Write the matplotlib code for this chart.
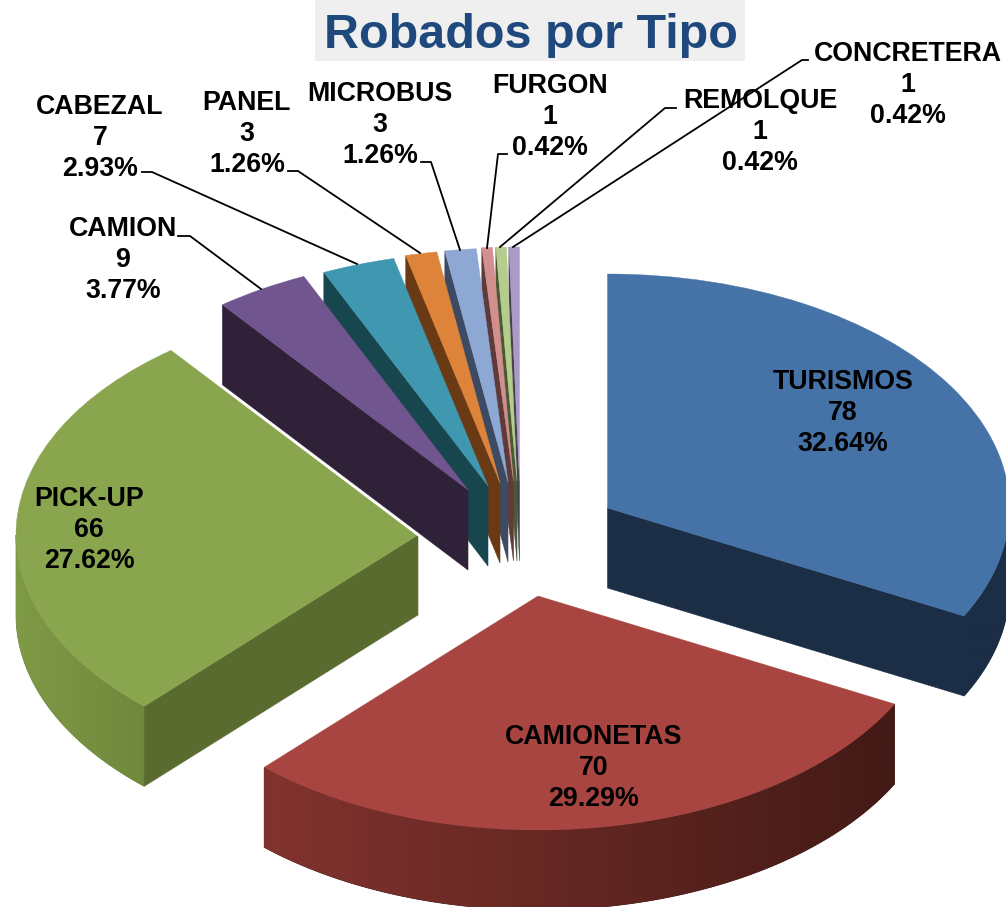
import matplotlib
matplotlib.use("Agg")
import matplotlib.pyplot as plt
import numpy as np
from matplotlib.colors import to_rgb
from matplotlib.patches import Polygon, Rectangle

plt.rcParams['font.family'] = ['Liberation Sans', 'DejaVu Sans']

names = ["TURISMOS", "CAMIONETAS", "PICK-UP", "CAMION", "CABEZAL", "PANEL",
         "MICROBUS", "FURGON", "REMOLQUE", "CONCRETERA"]
values = [78, 70, 66, 9, 7, 3, 3, 1, 1, 1]
top_colors = ["#4572a7", "#a94540", "#89a54e", "#71558f", "#4097b0",
              "#dd843a", "#8ea8d4", "#d28f8d", "#b4cc8c", "#a89bc5"]
cut_colors = ["#1b2e46", "#431a16", "#5a6b30", "#2e2138", "#17464f",
              "#6a3a14", "#3d4a64", "#5f3a3a", "#4a5a35", "#4a4055"]

# where each slice's tip ended up, in pixels (every slice is pulled out its own way)
apex_x = [607.5, 538, 418, 468, 488, 500, 508, 513.5, 517, 519.5]
apex_y = [508, 596, 535, 490, 486, 483, 482, 481, 481, 481]
label_x = [843, 594, 89, 123, 100, 247, 380, 550, 760, 908]
label_y = [413, 768, 530, 260, 138, 134, 125, 117, 132, 85]
leaders = [None, None, None,
           [(178, 236), (190, 236), (261, 289)],
           [(142, 172), (152, 172), (357, 264)],
           [(288, 171), (298, 171), (420, 253)],
           [(421, 162), (431, 162), (460, 250)],
           [(507, 154), (498, 154), (487, 248)],
           [(676, 108), (665, 108), (500, 247)],
           [(808, 60), (802, 60), (513, 247)]]

W, H = 1006, 907
RX, RY, DEPTH = 402.0, 234.0, 80.0

fig = plt.figure(figsize=(W / 100, H / 100), dpi=100)
ax = fig.add_axes([0, 0, 1, 1])   # unit circle axes, squashed
ov = fig.add_axes([0, 0, 1, 1])   # pixel axes for text
ov.set_xlim(0, W)
ov.set_ylim(H, 0)
ov.axis('off')
ov.patch.set_alpha(0)

total = sum(values)
ends = np.cumsum(values) / total * 360
starts = ends - np.array(values) / total * 360


def to_unit(px, py):
    return px / RX, -py / RY


def arc_wall(cx, cy, t0, t1, col0, col1):
    # curved outer wall, one polygon filled with a left to right gradient
    ts = np.radians(np.linspace(t0, t1, 120))
    xs = cx + np.sin(ts)
    ys = cy + np.cos(ts)
    d = DEPTH / RY
    pts = list(zip(xs, ys)) + list(zip(xs[::-1], ys[::-1] - d))
    poly = Polygon(pts, closed=True, fc=col1, ec=col1, lw=0.5)
    ax.add_patch(poly)
    grad = np.linspace(0, 1, 256)[None, :, None]
    img = np.array(to_rgb(col0)) + (np.array(to_rgb(col1)) - np.array(to_rgb(col0))) * grad
    im = ax.imshow(img, extent=(xs.min(), xs.max(), ys.min() - d, ys.max()),
                   aspect='auto', zorder=1, interpolation='bilinear')
    im.set_clip_path(poly)


def cut_wall(cx, cy, t, col):
    # flat wall under the straight edge of a slice
    a = np.radians(t)
    ex, ey = cx + np.sin(a), cy + np.cos(a)
    d = DEPTH / RY
    ax.add_patch(Polygon([(cx, cy), (ex, ey), (ex, ey - d), (cx, cy - d)],
                         closed=True, fc=col, ec=col, lw=0.4))


def top_face(cx, cy, i):
    ax.pie([values[i] / total], normalize=False, startangle=90 - starts[i],
           counterclock=False, colors=[top_colors[i]], center=(cx, cy), radius=1,
           wedgeprops={'lw': 0.3, 'edgecolor': top_colors[i]})


# back to front: thin slices right to left, then the three big ones
for i in range(9, 2, -1):
    cx, cy = to_unit(apex_x[i], apex_y[i])
    cut_wall(cx, cy, starts[i], cut_colors[i])
    top_face(cx, cy, i)

# pick-up
cx, cy = to_unit(apex_x[2], apex_y[2])
arc_wall(cx, cy, 270, starts[2], "#7f9a46", "#6f883c")
cut_wall(cx, cy, starts[2], cut_colors[2])
top_face(cx, cy, 2)
e = np.radians(ends[2])
ax.plot([cx, cx + np.sin(e)], [cy, cy + np.cos(e)], color='white', lw=1.6)

# turismos
cx, cy = to_unit(apex_x[0], apex_y[0])
arc_wall(cx, cy, 90, ends[0], cut_colors[0], cut_colors[0])
cut_wall(cx, cy, ends[0], cut_colors[0])
top_face(cx, cy, 0)

# camionetas
cx, cy = to_unit(apex_x[1], apex_y[1])
arc_wall(cx, cy, ends[1], starts[1], "#82332e", "#431a16")
top_face(cx, cy, 1)

ax.set_aspect('auto')
ax.set_xlim(0, W / RX)
ax.set_ylim(-H / RY, 0)
ax.axis('off')

# labels
for i, name in enumerate(names):
    pct = values[i] / total * 100
    ov.text(label_x[i], label_y[i], "%s\n%d\n%.2f%%" % (name, values[i], pct),
            ha='center', va='center', fontsize=19.3, fontweight='bold',
            color='black', linespacing=1.27)
    if leaders[i]:
        xs, ys = zip(*leaders[i])
        ov.plot(xs, ys, color='black', lw=1.3)

# title
ov.add_patch(Rectangle((315, 0), 430, 61, fc='#efefef', ec='none'))
ov.text(531, 48, "Robados por Tipo", ha='center', va='baseline', fontsize=34.9,
        fontweight='bold', color='#1f497d')

fig.savefig("out.png", dpi=100, facecolor='white')
